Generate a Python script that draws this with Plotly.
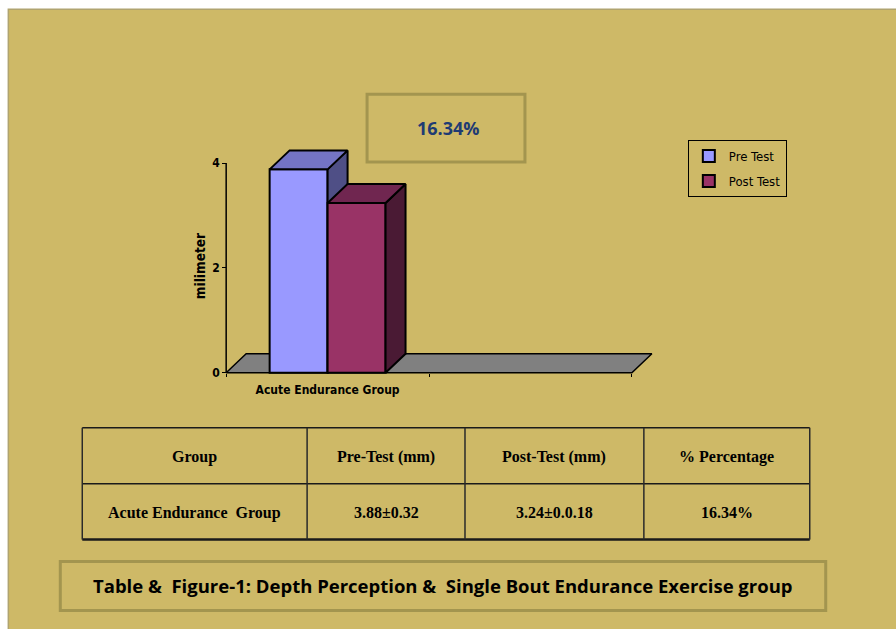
import plotly.graph_objects as go

# ---------------- data ----------------
categories = ["Acute Endurance Group", ""]
series_names = ["Pre Test", "Post Test"]
pre_test = [3.88]
post_test = [3.24]
pre_sd = "0.32"
post_sd = "0.0.18"
percent_change = "16.34%"
y_ticks = [0, 2, 4]
y_title = "milimeter"
table_header = ["Group", "Pre-Test (mm)", "Post-Test (mm)", "% Percentage"]
caption = "Table &  Figure-1: Depth Perception &  Single Bout Endurance Exercise group"

# ---------------- styling ----------------
KHAKI = "#CEB967"
FRAME_LINE = "#A3954F"
front_colors = ["#9999FF", "#993366"]
top_colors = ["#7474C4", "#702650"]
side_colors = ["#4F4F86", "#4A1A34"]
FLOOR = "#808080"
CHART_FONT = "DejaVu Sans Condensed, Liberation Sans Narrow, Liberation Sans, sans-serif"

# ---------------- geometry ----------------
W, H = 896, 629
CAT_PX = 203.0      # pixels per category step
VAL_PX = 52.5       # pixels per millimetre
AXIS_X_PX = 226     # pixel column of x = -0.5
BASE_Y_PX = 373     # pixel row of y = 0
DEPTH_X = 20 / CAT_PX
DEPTH_Y = 19 / VAL_PX
BAR_W = 58 / CAT_PX

X_MIN, X_MAX = -0.56, len(categories) - 0.5 + DEPTH_X + 0.05
Y_MIN, Y_MAX = -0.08, 4.44

m_l = AXIS_X_PX - (-0.5 - X_MIN) * CAT_PX
m_r = W - (AXIS_X_PX + (X_MAX + 0.5) * CAT_PX)
m_t = BASE_Y_PX - Y_MAX * VAL_PX
m_b = H - (BASE_Y_PX - Y_MIN * VAL_PX)
plot_w = W - m_l - m_r
plot_h = H - m_t - m_b


def pp(px, py):
    """pixel position -> paper coordinates"""
    return (px - m_l) / plot_w, 1 - (py - m_t) / plot_h


def label(px, py, text, **kw):
    x, y = pp(px, py)
    return dict(xref="paper", yref="paper", x=x, y=y, text=text, showarrow=False,
                xanchor="center", yanchor="middle", **kw)


fig = go.Figure()

# floor of the 3-D plot
x_lo, x_hi = -0.5, len(categories) - 0.5
fig.add_trace(go.Scatter(
    x=[x_lo, x_hi, x_hi + DEPTH_X, x_lo + DEPTH_X, x_lo],
    y=[0, 0, DEPTH_Y, DEPTH_Y, 0],
    mode="lines", fill="toself", fillcolor=FLOOR,
    line=dict(color="black", width=1.5), showlegend=False, hoverinfo="skip",
))

# one overlaid subplot per series so each bar's faces stack correctly
series_values = [pre_test, post_test]
offsets = [-BAR_W, 0.0]
for i, (name, vals) in enumerate(zip(series_names, series_values)):
    xa, ya = f"x{i + 2}", f"y{i + 2}"
    v = vals[0]
    x0 = offsets[i]
    x1 = x0 + BAR_W
    fig.add_trace(go.Bar(
        x=[0], y=[v], width=[BAR_W], offset=[x0], name=name,
        marker=dict(color=front_colors[i], line=dict(color="black", width=2)),
        xaxis=xa, yaxis=ya, legendgroup=name,
    ))
    fig.add_trace(go.Scatter(
        x=[x1, x1 + DEPTH_X, x1 + DEPTH_X, x1, x1],
        y=[0, DEPTH_Y, v + DEPTH_Y, v, 0],
        mode="lines", fill="toself", fillcolor=side_colors[i],
        line=dict(color="black", width=2), showlegend=False, hoverinfo="skip",
        xaxis=xa, yaxis=ya,
    ))
    fig.add_trace(go.Scatter(
        x=[x0, x0 + DEPTH_X, x1 + DEPTH_X, x1, x0],
        y=[v, v + DEPTH_Y, v + DEPTH_Y, v, v],
        mode="lines", fill="toself", fillcolor=top_colors[i],
        line=dict(color="black", width=2), showlegend=False, hoverinfo="skip",
        xaxis=xa, yaxis=ya,
    ))

shapes = []
annotations = []

# page background
fx0, fy0 = pp(8, 9)
fx1, fy1 = pp(W + 20, H + 20)
shapes.append(dict(type="rect", xref="paper", yref="paper", x0=fx0, y0=fy0, x1=fx1, y1=fy1,
                   fillcolor=KHAKI, line=dict(color="#B0A470", width=1.5), layer="below"))

# value axis line
shapes.append(dict(type="line", xref="x", yref="y", x0=-0.5, x1=-0.5, y0=0, y1=max(y_ticks),
                   line=dict(color="black", width=1.5)))

# percentage call-out box
bx0, by0 = pp(367, 94)
bx1, by1 = pp(525, 162)
shapes.append(dict(type="rect", xref="paper", yref="paper", x0=bx0, y0=by0, x1=bx1, y1=by1,
                   line=dict(color=FRAME_LINE, width=3)))
annotations.append(label(448, 128, f"<b>{percent_change}</b>",
                         font=dict(family="Open Sans", size=18, color="#1F3B73")))

# data table
col_edges = [82, 307, 465, 644, 810]
row_edges = [428, 484, 540]
table_body = [
    categories[0].replace("Endurance Group", "Endurance  Group"),
    f"{pre_test[0]:.2f}±{pre_sd}",
    f"{post_test[0]:.2f}±{post_sd}",
    percent_change,
]
for j, ry in enumerate(row_edges):
    lx0, ly = pp(col_edges[0], ry)
    lx1, _ = pp(col_edges[-1], ry)
    shapes.append(dict(type="line", xref="paper", yref="paper", x0=lx0, x1=lx1, y0=ly, y1=ly,
                       line=dict(color="#1a1a1a", width=2.5 if j == len(row_edges) - 1 else 1.5)))
for cx in col_edges:
    vx, vy0 = pp(cx, row_edges[0])
    _, vy1 = pp(cx, row_edges[-1])
    shapes.append(dict(type="line", xref="paper", yref="paper", x0=vx, x1=vx, y0=vy0, y1=vy1,
                       line=dict(color="#2a2a2a", width=1.5)))
for r, row in enumerate([table_header, table_body]):
    cy = (row_edges[r] + row_edges[r + 1]) / 2 + 1
    for c, txt in enumerate(row):
        cx = (col_edges[c] + col_edges[c + 1]) / 2
        annotations.append(label(cx, cy, f"<b>{txt}</b>",
                                 font=dict(family="Liberation Serif", size=16, color="black")))

# caption box
cx0, cy0 = pp(60, 562)
cx1, cy1 = pp(826, 611)
shapes.append(dict(type="rect", xref="paper", yref="paper", x0=cx0, y0=cy0, x1=cx1, y1=cy1,
                   line=dict(color=FRAME_LINE, width=3)))
annotations.append(label(443, 586, f"<b>{caption}</b>",
                         font=dict(family="Open Sans", size=18.5, color="black")))

# y-axis title
annotations.append(label(200, 266, f"<b>{y_title}</b>", textangle=-90,
                         font=dict(family=CHART_FONT, size=13.5, color="black")))

axis_x_paper, _ = pp(AXIS_X_PX, 0)
_, axis_y_paper = pp(0, BASE_Y_PX)
leg_x, leg_y = pp(688, 140)

hidden = dict(visible=False, showgrid=False, zeroline=False)
fig.update_layout(
    width=W, height=H,
    margin=dict(l=m_l, r=m_r, t=m_t, b=m_b, pad=0),
    paper_bgcolor="white", plot_bgcolor="rgba(0,0,0,0)",
    showlegend=True,
    legend=dict(x=leg_x, y=leg_y, xanchor="left", yanchor="top",
                bgcolor="rgba(0,0,0,0)", bordercolor="black", borderwidth=1,
                font=dict(family=CHART_FONT, size=13, color="black"),
                itemwidth=30, tracegroupgap=5, traceorder="grouped"),
    xaxis=dict(range=[X_MIN, X_MAX], tickvals=list(range(len(categories))), ticktext=categories,
               anchor="free", position=axis_y_paper, showgrid=False, zeroline=False,
               showline=False, ticks="", ticklabelstandoff=8,
               tickfont=dict(family=CHART_FONT, size=12, color="black", weight="bold"),
               minor=dict(tickvals=[k - 0.5 for k in range(len(categories) + 1)],
                          ticks="outside", ticklen=3, tickcolor="black")),
    yaxis=dict(range=[Y_MIN, Y_MAX], tickvals=y_ticks, anchor="free", position=axis_x_paper,
               showgrid=False, zeroline=False, showline=False, ticks="outside", ticklen=4,
               tickcolor="black",
               tickfont=dict(family=CHART_FONT, size=12, color="black", weight="bold")),
    xaxis2=dict(overlaying="x", matches="x", **hidden),
    yaxis2=dict(overlaying="y", matches="y", **hidden),
    xaxis3=dict(overlaying="x", matches="x", **hidden),
    yaxis3=dict(overlaying="y", matches="y", **hidden),
    shapes=shapes, annotations=annotations,
)

fig.write_html("out.html")
